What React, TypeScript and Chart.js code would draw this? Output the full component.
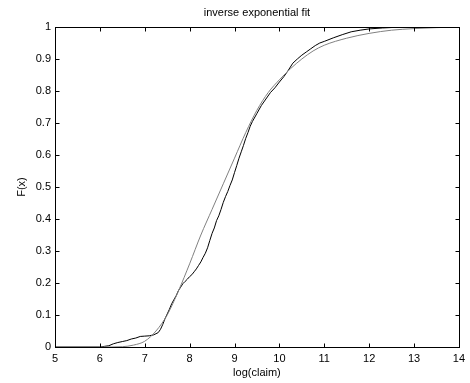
import React, { useEffect, useRef } from "react";
import { Chart, registerables } from "chart.js";
Chart.register(...registerables);

const titleText = "inverse exponential fit";
const xLabel = "log(claim)";
const yLabel = "F(x)";

const xTicks = [5, 6, 7, 8, 9, 10, 11, 12, 13, 14];
const yTicks = [0, 0.1, 0.2, 0.3, 0.4, 0.5, 0.6, 0.7, 0.8, 0.9, 1];

// fitted (smooth, gray) curve
const fitX = [5, 6, 6.5, 6.75, 7.0, 7.25, 7.5, 7.75, 8.0, 8.25, 8.5, 8.75, 9.0, 9.25, 9.5, 9.75, 10.0, 10.25, 10.5, 10.75, 11.0, 11.5, 12.0, 12.5, 13.0, 13.5, 14.0];
const fitY = [0, 0, 0.001, 0.006, 0.018, 0.05, 0.1, 0.175, 0.26, 0.35, 0.43, 0.51, 0.59, 0.67, 0.74, 0.795, 0.835, 0.87, 0.9, 0.925, 0.943, 0.965, 0.98, 0.99, 0.995, 0.998, 1.0];

// empirical (jagged, black) curve
const ecdfX = [5, 6.0, 6.1, 6.2, 6.3, 6.4, 6.5, 6.6, 6.7, 6.8, 6.9, 7.0, 7.1, 7.2, 7.3, 7.35, 7.4, 7.45, 7.5, 7.55, 7.6, 7.65, 7.7, 7.75, 7.8, 7.85, 7.9, 7.95, 8.0, 8.05, 8.1, 8.15, 8.2, 8.25, 8.3, 8.35, 8.4, 8.45, 8.5, 8.55, 8.6, 8.65, 8.7, 8.75, 8.8, 8.85, 8.9, 8.95, 9.0, 9.05, 9.1, 9.15, 9.2, 9.25, 9.3, 9.35, 9.4, 9.5, 9.6, 9.7, 9.8, 9.9, 10.0, 10.1, 10.2, 10.3, 10.4, 10.5, 10.6, 10.7, 10.8, 10.9, 11.0, 11.2, 11.4, 11.6, 11.8, 12.0, 12.3, 12.6, 13.0];
const ecdfY = [0, 0, 0.002, 0.004, 0.01, 0.014, 0.017, 0.02, 0.025, 0.028, 0.033, 0.034, 0.035, 0.038, 0.045, 0.055, 0.07, 0.088, 0.103, 0.118, 0.135, 0.148, 0.16, 0.176, 0.187, 0.198, 0.205, 0.212, 0.22, 0.226, 0.235, 0.244, 0.255, 0.266, 0.28, 0.293, 0.31, 0.333, 0.355, 0.372, 0.395, 0.41, 0.43, 0.452, 0.47, 0.486, 0.505, 0.522, 0.545, 0.567, 0.59, 0.61, 0.63, 0.652, 0.67, 0.69, 0.705, 0.73, 0.755, 0.775, 0.795, 0.81, 0.828, 0.845, 0.865, 0.887, 0.9, 0.912, 0.922, 0.932, 0.942, 0.95, 0.955, 0.966, 0.976, 0.985, 0.99, 0.994, 0.997, 0.999, 1.0];

const FONT = "'Liberation Sans', Arial, Helvetica, sans-serif";
const FS = 11;

const boxPlugin = {
  id: "matlabBox",
  afterDatasetsDraw(chart: any) {
    const { ctx, chartArea, scales } = chart;
    const l = Math.round(chartArea.left) + 0.5;
    const r = Math.round(chartArea.right) + 0.5;
    const t = Math.round(chartArea.top) + 0.5;
    const b = Math.round(chartArea.bottom) + 0.5;
    ctx.save();
    ctx.strokeStyle = "#000";
    ctx.lineWidth = 1;
    ctx.strokeRect(l, t, r - l, b - t);
    const tl = 4;
    ctx.beginPath();
    for (const v of xTicks) {
      const px = Math.round(scales.x.getPixelForValue(v)) + 0.5;
      ctx.moveTo(px, b);
      ctx.lineTo(px, b - tl);
      ctx.moveTo(px, t);
      ctx.lineTo(px, t + tl);
    }
    for (const v of yTicks) {
      const py = Math.round(scales.y.getPixelForValue(v)) + 0.5;
      ctx.moveTo(l, py);
      ctx.lineTo(l + tl, py);
      ctx.moveTo(r, py);
      ctx.lineTo(r - tl, py);
    }
    ctx.stroke();
    // title centred over the axes
    ctx.fillStyle = "#000";
    ctx.font = `${FS}px ${FONT}`;
    ctx.textAlign = "center";
    ctx.textBaseline = "middle";
    ctx.fillText(titleText, (chartArea.left + chartArea.right) / 2, 13);
    ctx.restore();
  },
};

export default function App() {
  const ref = useRef<HTMLCanvasElement | null>(null);
  useEffect(() => {
    if (!ref.current) return;
    const chart = new Chart(ref.current, {
      type: "line",
      data: {
        datasets: [
          {
            label: "fit",
            data: fitX.map((x, i) => ({ x, y: fitY[i] })),
            borderColor: "#808080",
            borderWidth: 1,
            pointRadius: 0,
            cubicInterpolationMode: "monotone",
            fill: false,
          },
          {
            label: "empirical",
            data: ecdfX.map((x, i) => ({ x, y: ecdfY[i] })),
            borderColor: "#000000",
            borderWidth: 1,
            pointRadius: 0,
            tension: 0,
            fill: false,
          },
        ],
      },
      options: {
        responsive: false,
        animation: false,
        layout: { padding: { top: 27, right: 8, left: 0, bottom: 0 } },
        plugins: {
          legend: { display: false },
          title: { display: false },
          tooltip: { enabled: false },
        },
        scales: {
          x: {
            type: "linear",
            min: 5,
            max: 14,
            grid: { display: false, drawTicks: false },
            border: { display: false },
            afterBuildTicks: (s: any) => {
              s.ticks = xTicks.map((v) => ({ value: v }));
            },
            afterFit: (s: any) => {
              s.height = 36;
            },
            ticks: {
              color: "#000",
              padding: 5,
              maxRotation: 0,
              font: { family: FONT, size: FS },
              callback: (v: any) => String(v),
            },
            title: {
              display: true,
              text: xLabel,
              color: "#000",
              font: { family: FONT, size: FS },
              padding: { top: 0, bottom: 3 },
            },
          },
          y: {
            type: "linear",
            min: 0,
            max: 1,
            grid: { display: false, drawTicks: false },
            border: { display: false },
            afterBuildTicks: (s: any) => {
              s.ticks = yTicks.map((v) => ({ value: v }));
            },
            afterFit: (s: any) => {
              s.width = 55;
            },
            ticks: {
              color: "#000",
              padding: 4,
              font: { family: FONT, size: FS },
              callback: (v: any) => String(Math.round(Number(v) * 10) / 10),
            },
            title: {
              display: true,
              text: yLabel,
              color: "#000",
              font: { family: FONT, size: FS },
              padding: { top: 15, bottom: 0 },
            },
          },
        },
      },
      plugins: [boxPlugin],
    });
    return () => chart.destroy();
  }, []);
  return (
    <div style={{ position: "fixed", left: 0, top: 0, width: 470, height: 383, background: "#fff" }}>
      <canvas ref={ref} width={470} height={383} />
    </div>
  );
}
